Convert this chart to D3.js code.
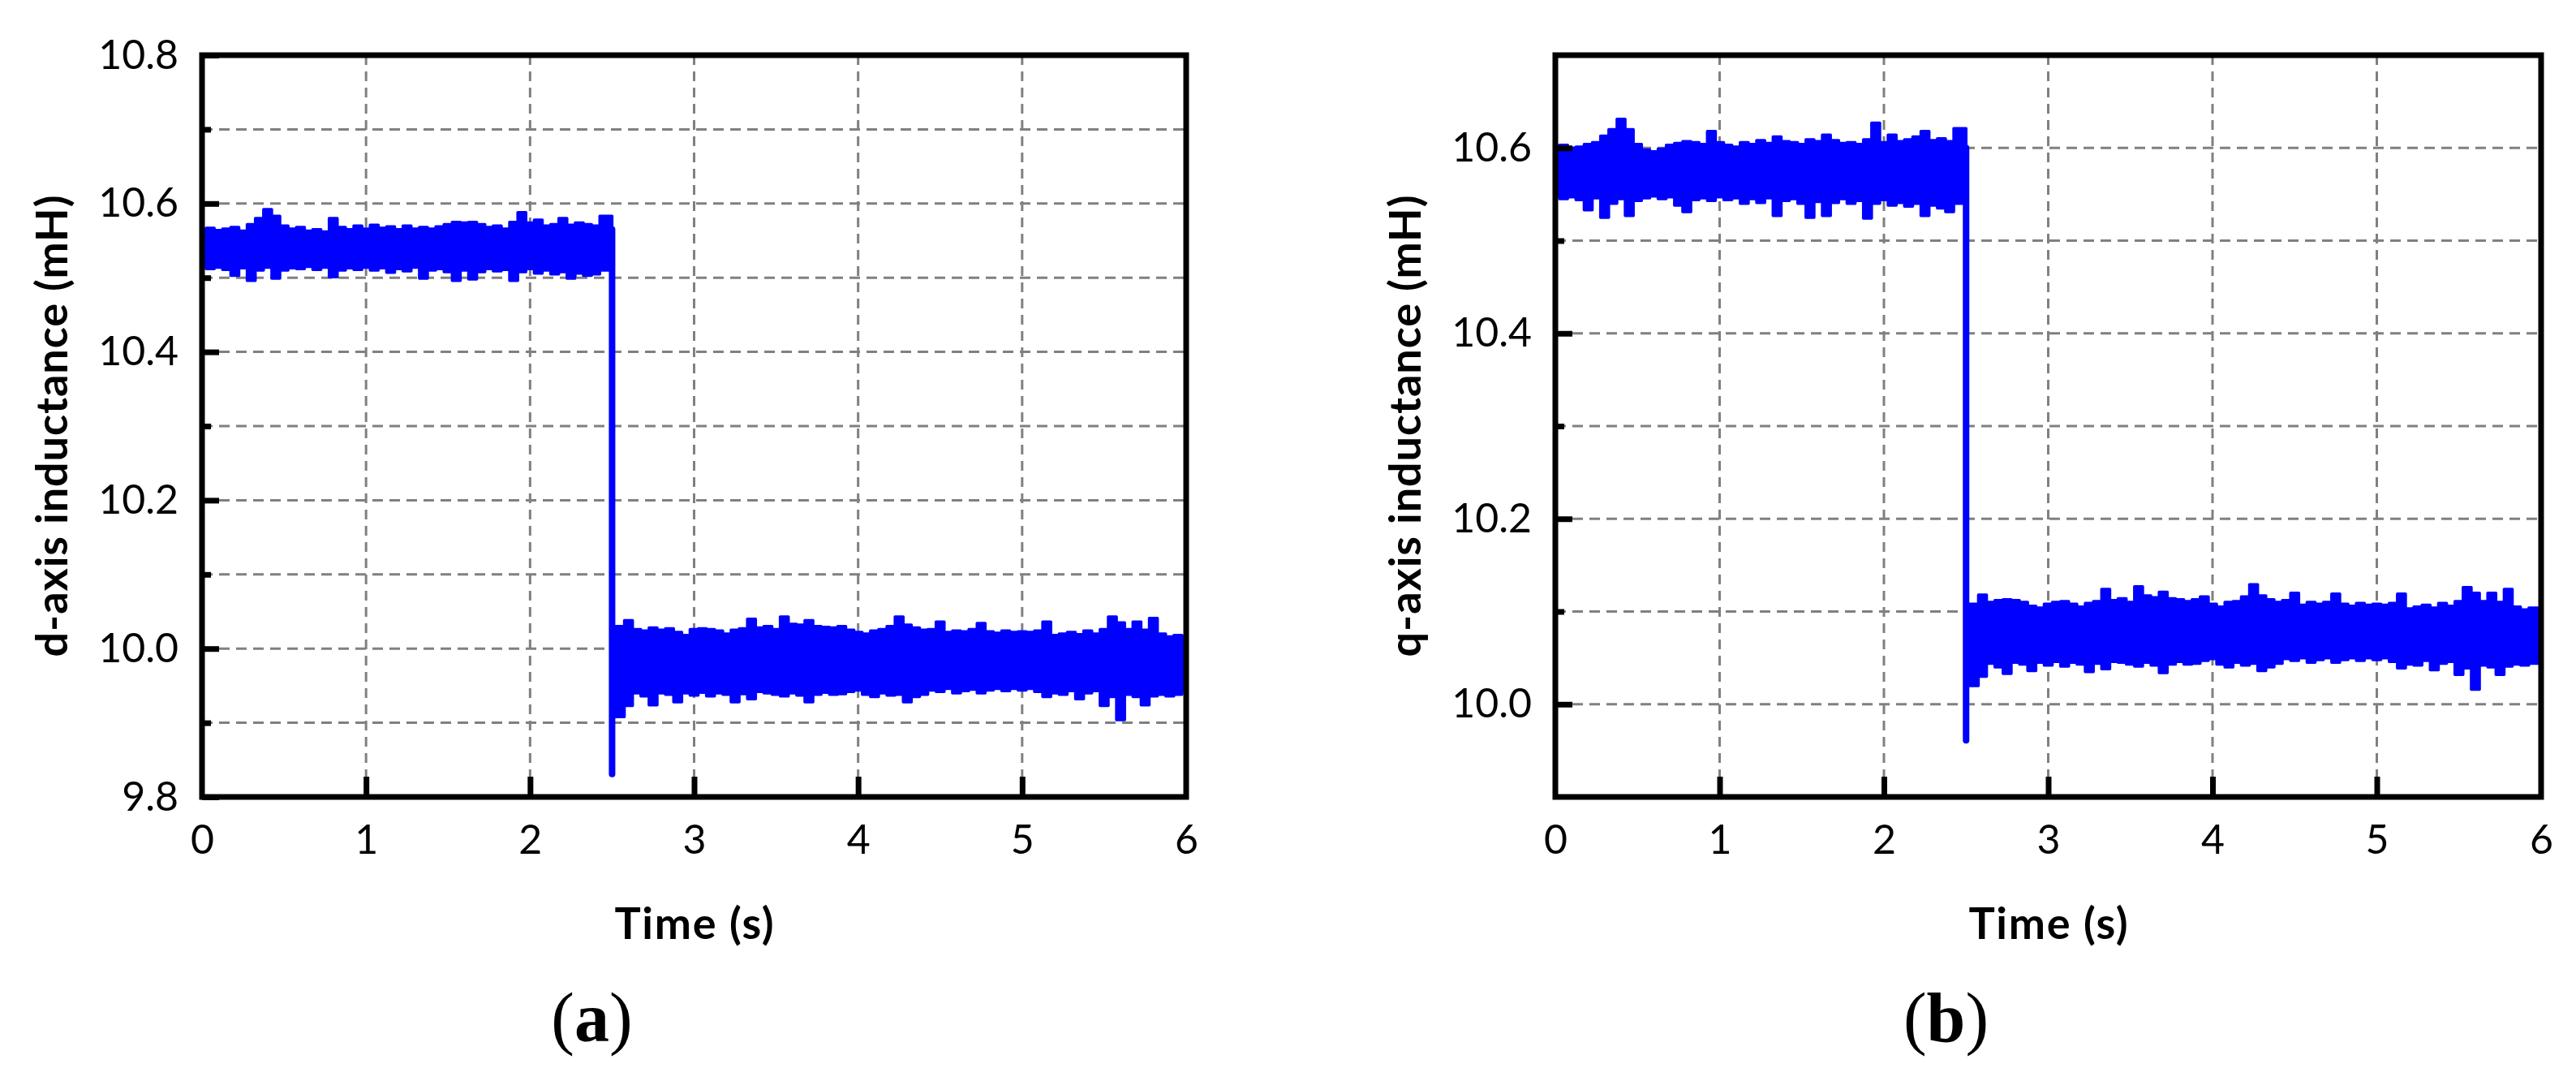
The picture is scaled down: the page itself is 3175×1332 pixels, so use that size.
<!DOCTYPE html>
<html><head><meta charset="utf-8">
<script src="https://cdn.jsdelivr.net/npm/d3@7"></script>
<style>body{margin:0;background:#fff}</style>
</head><body>
<script>
// ---- DATA ----
// The signal is dense noise: each entry gives the max (High) and min (Low)
// of the trace in a short time bin centred at `time`.
const time = [
0,0.05,0.1,0.15,0.2,0.25,0.3,0.35,0.4,0.45,
0.5,0.55,0.6,0.65,0.7,0.75,0.8,0.85,0.9,0.95,
1,1.05,1.1,1.15,1.2,1.25,1.3,1.35,1.4,1.45,
1.5,1.55,1.6,1.65,1.7,1.75,1.8,1.85,1.9,1.95,
2,2.05,2.1,2.15,2.2,2.25,2.3,2.35,2.4,2.45,
2.55,2.6,2.65,2.7,2.75,2.8,2.85,2.9,2.95,3,
3.05,3.1,3.15,3.2,3.25,3.3,3.35,3.4,3.45,3.5,
3.55,3.6,3.65,3.7,3.75,3.8,3.85,3.9,3.95,4,
4.05,4.1,4.15,4.2,4.25,4.3,4.35,4.4,4.45,4.5,
4.55,4.6,4.65,4.7,4.75,4.8,4.85,4.9,4.95,5,
5.05,5.1,5.15,5.2,5.25,5.3,5.35,5.4,5.45,5.5,
5.55,5.6,5.65,5.7,5.75,5.8,5.85,5.9,5.95,6
];

const dAxisHigh = [
10.565,10.567,10.564,10.566,10.568,10.563,10.572,10.580,10.592,10.583,
10.570,10.566,10.568,10.563,10.565,10.562,10.580,10.568,10.565,10.570,
10.566,10.571,10.567,10.569,10.565,10.570,10.566,10.568,10.566,10.569,
10.572,10.575,10.574,10.575,10.572,10.568,10.570,10.566,10.575,10.588,
10.574,10.578,10.570,10.572,10.580,10.571,10.574,10.572,10.570,10.583,
10.030,10.038,10.026,10.024,10.028,10.025,10.027,10.022,10.018,10.026,
10.027,10.026,10.024,10.020,10.025,10.027,10.040,10.028,10.030,10.026,
10.043,10.033,10.032,10.038,10.030,10.029,10.028,10.030,10.025,10.022,
10.020,10.024,10.026,10.030,10.043,10.032,10.028,10.025,10.026,10.036,
10.022,10.024,10.023,10.026,10.034,10.023,10.021,10.024,10.022,10.023,
10.022,10.024,10.036,10.018,10.020,10.022,10.019,10.024,10.020,10.026,
10.043,10.035,10.026,10.036,10.025,10.041,10.020,10.016,10.018,10.016
];
const dAxisLow = [
10.515,10.512,10.514,10.511,10.503,10.513,10.496,10.510,10.514,10.499,
10.510,10.513,10.512,10.515,10.511,10.514,10.501,10.510,10.513,10.511,
10.514,10.510,10.513,10.507,10.512,10.509,10.514,10.499,10.510,10.512,
10.508,10.496,10.510,10.498,10.508,10.512,10.509,10.511,10.496,10.508,
10.512,10.506,10.510,10.505,10.508,10.499,10.506,10.503,10.505,10.510,
9.908,9.923,9.940,9.936,9.924,9.940,9.938,9.928,9.940,9.937,
9.941,9.936,9.940,9.938,9.928,9.939,9.932,9.942,9.940,9.938,
9.936,9.940,9.937,9.928,9.938,9.941,9.938,9.939,9.942,9.944,
9.938,9.935,9.940,9.937,9.938,9.928,9.935,9.938,9.944,9.942,
9.946,9.940,9.943,9.945,9.940,9.944,9.946,9.943,9.946,9.944,
9.946,9.942,9.935,9.940,9.938,9.943,9.932,9.940,9.943,9.923,
9.935,9.904,9.938,9.935,9.924,9.936,9.938,9.936,9.938,9.943
];

const qAxisHigh = [
10.602,10.603,10.600,10.601,10.604,10.606,10.613,10.620,10.631,10.620,
10.604,10.598,10.596,10.599,10.603,10.605,10.607,10.606,10.604,10.618,
10.606,10.603,10.601,10.606,10.604,10.608,10.605,10.612,10.607,10.606,
10.604,10.609,10.607,10.614,10.608,10.605,10.606,10.604,10.609,10.627,
10.606,10.614,10.607,10.609,10.612,10.618,10.608,10.610,10.607,10.621,
10.108,10.118,10.110,10.112,10.113,10.112,10.110,10.106,10.104,10.108,
10.110,10.111,10.108,10.105,10.109,10.111,10.124,10.112,10.114,10.110,
10.127,10.117,10.115,10.121,10.114,10.113,10.111,10.113,10.116,10.108,
10.105,10.110,10.111,10.116,10.129,10.117,10.113,10.110,10.112,10.120,
10.107,10.110,10.108,10.110,10.119,10.108,10.106,10.109,10.107,10.108,
10.107,10.109,10.119,10.103,10.105,10.107,10.104,10.109,10.106,10.111,
10.126,10.120,10.111,10.120,10.110,10.124,10.105,10.102,10.104,10.104
];
const qAxisLow = [
10.548,10.545,10.547,10.544,10.533,10.546,10.525,10.540,10.545,10.527,
10.543,10.546,10.548,10.545,10.547,10.538,10.531,10.544,10.546,10.543,
10.547,10.544,10.546,10.540,10.545,10.541,10.546,10.527,10.543,10.545,
10.540,10.525,10.542,10.527,10.541,10.545,10.540,10.543,10.524,10.540,
10.544,10.538,10.541,10.537,10.540,10.527,10.538,10.535,10.531,10.540,
10.020,10.030,10.044,10.040,10.033,10.045,10.043,10.036,10.045,10.042,
10.046,10.041,10.045,10.043,10.035,10.044,10.038,10.046,10.045,10.043,
10.041,10.045,10.042,10.034,10.043,10.046,10.043,10.044,10.047,10.049,
10.043,10.040,10.045,10.042,10.044,10.036,10.040,10.044,10.049,10.047,
10.050,10.045,10.048,10.050,10.045,10.048,10.050,10.047,10.050,10.048,
10.050,10.046,10.039,10.043,10.042,10.047,10.037,10.044,10.046,10.032,
10.039,10.016,10.042,10.040,10.032,10.041,10.043,10.042,10.044,10.044
];

// the sudden step at t = 2.5 s: value just before, and deepest undershoot
const stepTime = [2.5, 2.5];
const dAxisStep = [10.565, 9.831];
const qAxisStep = [10.600, 9.961];

const xTicks = [0,1,2,3,4,5,6];
const xGrid = [1,2,3,4,5];
const dMajorTicks = [9.8,10.0,10.2,10.4,10.6,10.8];
const dMinorTicks = [9.9,10.1,10.3,10.5,10.7];
const dGrid = [9.9,10.0,10.1,10.2,10.3,10.4,10.5,10.6,10.7];
const qMajorTicks = [10.0,10.2,10.4,10.6];
const qMinorTicks = [10.1,10.3,10.5];
const qGrid = [10.0,10.1,10.2,10.3,10.4,10.5,10.6];
const xTitle = "Time (s)";
const dTitle = "d-axis inductance (mH)";
const qTitle = "q-axis inductance (mH)";

// ---- DRAWING ----
const W = 3175, H = 1332;
const svg = d3.select("body").append("svg")
  .attr("width", W).attr("height", H)
  .style("background", "#fff");
svg.append("rect").attr("width", W).attr("height", H).attr("fill", "#fff");

const TOP = 68, BOTTOM = 982;

function drawPanel(cfg) {
  const x = d3.scaleLinear().domain([0, 6]).range([cfg.left, cfg.right]);
  const y = d3.scaleLinear().domain(cfg.yDomain).range([BOTTOM, TOP]);
  const g = svg.append("g");

  // grid
  g.append("g").selectAll("line").data(cfg.grid).join("line")
    .attr("x1", cfg.left).attr("x2", cfg.right)
    .attr("y1", d => y(d)).attr("y2", d => y(d))
    .attr("stroke", "#808080").attr("stroke-width", 3)
    .attr("stroke-dasharray", "13,8");
  g.append("g").selectAll("line").data(xGrid).join("line")
    .attr("x1", d => x(d)).attr("x2", d => x(d))
    .attr("y1", TOP).attr("y2", BOTTOM)
    .attr("stroke", "#808080").attr("stroke-width", 3)
    .attr("stroke-dasharray", "12,8");

  // data band (max/min envelope of the dense noisy trace)
  const area = d3.area()
    .curve(d3.curveStep)
    .x((d, i) => x(time[i]))
    .y0((d, i) => y(cfg.low[i]))
    .y1((d, i) => y(cfg.high[i]));
  g.append("path").datum(cfg.high)
    .attr("d", area)
    .attr("fill", "#0000ff")
    .attr("stroke", "#0000ff")
    .attr("stroke-width", 3.5)
    .attr("stroke-linejoin", "round");

  // the step itself
  const stepLine = d3.line().x((d, i) => x(stepTime[i])).y(d => y(d));
  g.append("path").datum(cfg.step)
    .attr("d", stepLine)
    .attr("fill", "none")
    .attr("stroke", "#0000ff")
    .attr("stroke-width", 8)
    .attr("stroke-linecap", "round");

  // frame
  g.append("rect")
    .attr("x", cfg.left).attr("y", TOP)
    .attr("width", cfg.right - cfg.left).attr("height", BOTTOM - TOP)
    .attr("fill", "none").attr("stroke", "#000").attr("stroke-width", 7);

  // axes
  const xAxis = g.append("g").attr("transform", `translate(0,${BOTTOM})`)
    .call(d3.axisBottom(x).tickValues(xTicks).tickSize(-25).tickPadding(34).tickFormat(d3.format("d")));
  const yAxis = g.append("g").attr("transform", `translate(${cfg.left},0)`)
    .call(d3.axisLeft(y).tickValues(cfg.major).tickSize(-21).tickPadding(29).tickFormat(d3.format(".1f")));
  const yMinor = g.append("g").attr("transform", `translate(${cfg.left},0)`)
    .call(d3.axisLeft(y).tickValues(cfg.minor).tickSize(-11).tickFormat(""));
  [xAxis, yAxis, yMinor].forEach(a => {
    a.select(".domain").remove();
    a.attr("font-family", "Lato, sans-serif").attr("font-size", 50);
    a.selectAll("line").attr("stroke", "#000").attr("stroke-width", 7);
    a.selectAll("text").attr("fill", "#000");
  });
  xAxis.selectAll(".tick line").filter(d => d === 0 || d === 6).remove();

  // titles
  const cx = (cfg.left + cfg.right) / 2;
  g.append("text").attr("x", cx).attr("y", 1157)
    .attr("text-anchor", "middle")
    .attr("font-family", "Lato, sans-serif").attr("font-weight", "bold").attr("font-size", 54)
    .attr("textLength", 196).attr("lengthAdjust", "spacing")
    .text(xTitle);
  g.append("text")
    .attr("transform", `translate(${cfg.left - 166},${(TOP + BOTTOM) / 2}) rotate(-90)`)
    .attr("text-anchor", "middle")
    .attr("font-family", "Lato, sans-serif").attr("font-weight", "bold").attr("font-size", 54)
    .attr("textLength", 569).attr("lengthAdjust", "spacing")
    .text(cfg.title);

  // caption
  const cap = g.append("text").attr("x", cx - 126).attr("y", 1283)
    .attr("text-anchor", "middle")
    .attr("font-family", "'Liberation Serif', serif").attr("font-size", 86);
  cap.append("tspan").text("(");
  cap.append("tspan").attr("font-weight", "bold").text(cfg.label);
  cap.append("tspan").text(")");
}

drawPanel({left: 249, right: 1462, yDomain: [9.8, 10.8], high: dAxisHigh, low: dAxisLow, step: dAxisStep,
  major: dMajorTicks, minor: dMinorTicks, grid: dGrid, title: dTitle, label: "a"});
drawPanel({left: 1917, right: 3132, yDomain: [9.9, 10.7], high: qAxisHigh, low: qAxisLow, step: qAxisStep,
  major: qMajorTicks, minor: qMinorTicks, grid: qGrid, title: qTitle, label: "b"});
</script>
</body></html>
